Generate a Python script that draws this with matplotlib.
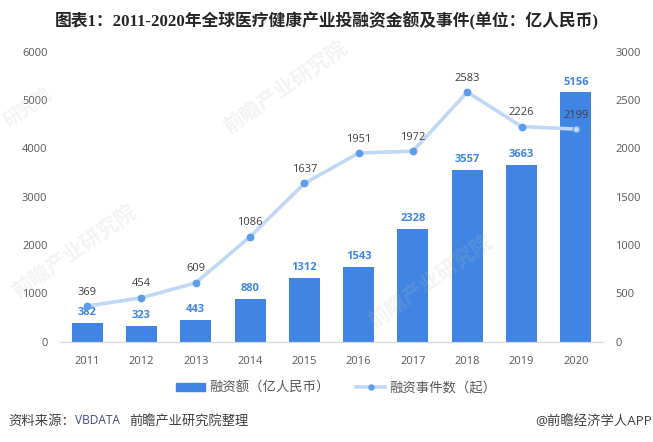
import matplotlib
matplotlib.use("Agg")
import matplotlib.pyplot as plt
from matplotlib.lines import Line2D
from matplotlib.patches import Patch

plt.rcParams["font.family"] = ["Open Sans", "Noto Sans CJK SC", "DejaVu Sans"]

years = ["2011", "2012", "2013", "2014", "2015", "2016", "2017", "2018", "2019", "2020"]
funding = [382, 323, 443, 880, 1312, 1543, 2328, 3557, 3663, 5156]
events = [369, 454, 609, 1086, 1637, 1951, 1972, 2583, 2226, 2199]
left_ticks = [0, 1000, 2000, 3000, 4000, 5000, 6000]
right_ticks = [0, 500, 1000, 1500, 2000, 2500, 3000]

BAR_BLUE = "#4085E3"
LINE_BLUE = "#BFD8F6"
DOT_BLUE = "#5E9DEB"
GREY = "#595959"
W, H = 653, 442

fig = plt.figure(figsize=(W / 100, H / 100), dpi=100, facecolor="white")

# axes box in pixels: x 60-603, y 51.7-341.7
ax = fig.add_axes([60 / W, 1 - 341.7 / H, 543 / W, 290 / H])
ax.patch.set_alpha(0)
ax2 = ax.twinx()
ax2.patch.set_alpha(0)

x = list(range(len(years)))
ax.bar(x, funding, width=0.57, color=BAR_BLUE)
ax.set_xlim(-0.5, 9.5)
ax.set_ylim(0, 6000)
ax.set_yticks(left_ticks)
ax.set_xticks(x, years)
ax.tick_params(axis="both", length=0, labelsize=8, labelcolor=GREY)
ax.tick_params(axis="x", pad=10)
ax.tick_params(axis="y", pad=9)

ax2.plot(x, events, color=LINE_BLUE, lw=2.6, solid_capstyle="round", zorder=2)
ax2.plot(x[:-1], events[:-1], ls="", marker="o", ms=4.6, color=DOT_BLUE, zorder=3)
ax2.plot(x[-1:], events[-1:], ls="", marker="o", ms=4.8, mfc=LINE_BLUE, mec=DOT_BLUE, mew=0.9, zorder=3)
ax2.set_ylim(0, 3000)
ax2.set_yticks(right_ticks)
ax2.tick_params(axis="y", length=0, labelsize=8, labelcolor=GREY, pad=9)

for a in (ax, ax2):
    for side in ("top", "left", "right"):
        a.spines[side].set_visible(False)
    a.spines["bottom"].set_color("#D9D9D9")

for i, v in enumerate(funding):
    ax.annotate(str(v), (i, v), xytext=(0, 3.5), textcoords="offset points", ha="center", va="bottom",
                fontsize=8, color=BAR_BLUE, weight="bold")
for i, v in enumerate(events):
    ax2.annotate(str(v), (i, v), xytext=(0, 6), textcoords="offset points", ha="center", va="bottom",
                 fontsize=8, color="#404040", zorder=5)

handles = [
    Patch(color=BAR_BLUE, label="融资额（亿人民币）"),
    Line2D([], [], color=LINE_BLUE, lw=2.6, marker="o", ms=3.6, mfc=DOT_BLUE, mec=DOT_BLUE, label="融资事件数（起）"),
]
fig.legend(handles=handles, loc="center", bbox_to_anchor=(336 / W, 1 - 388 / H), ncol=2, frameon=False,
           fontsize=9.6, labelcolor=GREY, handlelength=2.2, handleheight=0.6, handletextpad=0.3, columnspacing=2.0)

# watermarks, very faint, over the plot
for wx, wy, rot, size, mark in [(28, 108, 35, 13, "研究院"), (285, 88, 35, 15, "前瞻产业研究院"),
                                (74, 252, 35, 15, "前瞻产业研究院"), (430, 282, 35, 15, "前瞻产业研究院")]:
    fig.text(wx / W, 1 - wy / H, mark, fontsize=size, color="#BBBBBB", alpha=0.18, weight="bold",
             rotation=rot, ha="center", va="center", zorder=5)

fig.text(327 / W, 1 - 21 / H, "图表1：2011-2020年全球医疗健康产业投融资金额及事件(单位：亿人民币)",
         family=["Liberation Serif", "Noto Sans CJK SC"], weight="bold", fontsize=12.1, color="#262626",
         ha="center", va="center")
fig.text(8 / W, 1 - 421 / H, "资料来源：", fontsize=9.6, color="#404040", va="center")
fig.text(75 / W, 1 - 421 / H, "VBDATA", fontsize=8.6, color="#404A80", va="center")
fig.text(129 / W, 1 - 421 / H, "前瞻产业研究院整理", fontsize=9.5, color="#404040", va="center")
fig.text(652 / W, 1 - 421 / H, "@前瞻经济学人APP", fontsize=9.6, color="#404040", ha="right", va="center")

fig.savefig("out.png", dpi=100)
